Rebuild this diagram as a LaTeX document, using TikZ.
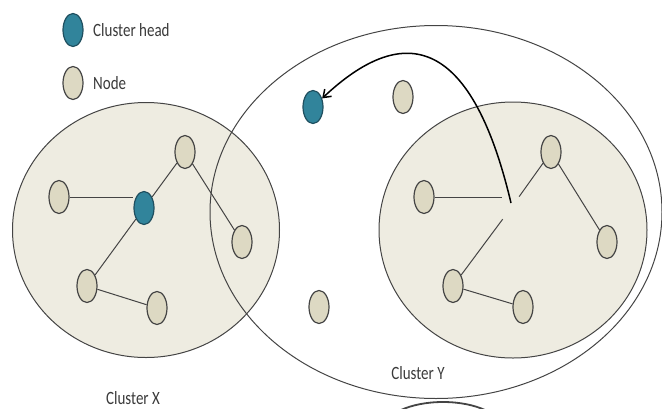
\documentclass[tikz,border=0pt]{standalone}
\usepackage{fontspec}
\setmainfont{Carlito}
\usetikzlibrary{shapes.geometric,arrows.meta}
\definecolor{clfill}{HTML}{EEECE1}
\definecolor{ndfill}{HTML}{DDD9C3}
\definecolor{chfill}{HTML}{31849B}
\definecolor{chline}{HTML}{1F4F5F}
\definecolor{lnc}{HTML}{444444}
\definecolor{txc}{HTML}{3A3A3A}
\tikzset{
  cluster/.style={ellipse,draw=lnc,line width=1pt,inner sep=0pt},
  snode/.style={ellipse,draw=lnc,line width=1.2pt,fill=ndfill,minimum width=20pt,minimum height=33pt,inner sep=0pt},
  chnode/.style={ellipse,draw=chline,line width=1.2pt,fill=chfill,minimum width=20pt,minimum height=33pt,inner sep=0pt},
  link/.style={draw=lnc,line width=1pt},
  lbl/.style={text=txc,font=\fontsize{15}{17}\selectfont,yscale=1.25,inner sep=0pt},
}
\begin{document}
\begin{tikzpicture}[x=1pt,y=-1pt]
\useasboundingbox (0,0) rectangle (662,408);
% clusters
\node[cluster,fill=clfill,minimum width=267pt,minimum height=255pt] (cx) at (146,230) {};
\node[cluster,fill=clfill,minimum width=268pt,minimum height=256pt] (cy) at (513,230) {};
\node[cluster,minimum width=452pt,minimum height=373pt] (big) at (436,212) {};
% partial shape at bottom
\begin{scope}
\clip (0,0) rectangle (662,408);
\node[cluster,line width=1.8pt,minimum width=120pt,minimum height=56pt] (bot) at (443,430) {};
\end{scope}
% legend
\node[chnode] (lch) at (73,30) {};
\node[snode] (lnd) at (73,83) {};
\node[lbl,anchor=west] (tch) at (93,30) {Cluster head};
\node[lbl,anchor=west] (tnd) at (93,83) {Node};
% cluster X nodes
\node[snode] (xl) at (59,197) {};
\node[chnode] (xch) at (144,208) {};
\node[snode] (xt) at (185,152) {};
\node[snode] (xr) at (242,242) {};
\node[snode] (xbl) at (87,286) {};
\node[snode] (xb) at (157,308) {};
\draw[link] (xl) -- (xl -| xch.west);
\draw[link] (xbl) -- (xch);
\draw[link] (xch) -- (xt);
\draw[link] (xt) -- (xr);
\draw[link] (xbl) -- (xb);
% cluster Y nodes
\coordinate (ych) at (511,208);
\node[snode] (yl) at (424,197) {};
\node[snode] (yt) at (551,152) {};
\node[snode] (yr) at (607,242) {};
\node[snode] (ybl) at (453,286) {};
\node[snode] (yb) at (523,307) {};
\draw[link,shorten >=9pt] (yl) -- (yl -| ych);
\draw[link,shorten >=14pt] (yt) -- (ych);
\draw[link,shorten >=14pt] (ybl) -- (ych);
\draw[link] (yt) -- (yr);
\draw[link] (ybl) -- (yb);
% free nodes in big ellipse
\node[chnode] (nch) at (313,107) {};
\node[snode] (nu) at (403,97) {};
\node[snode] (nd) at (319,307) {};
% arrow
\coordinate (as) at (511,203);
\draw[line width=1.5pt,black,-{Straight Barb[length=7pt,width=10pt]}] (as) .. controls (470,30) and (400,25) .. (nch);
% labels
\node[lbl] (lx) at (133,398) {Cluster X};
\node[lbl] (ly) at (418,373) {Cluster Y};
\end{tikzpicture}
\end{document}
